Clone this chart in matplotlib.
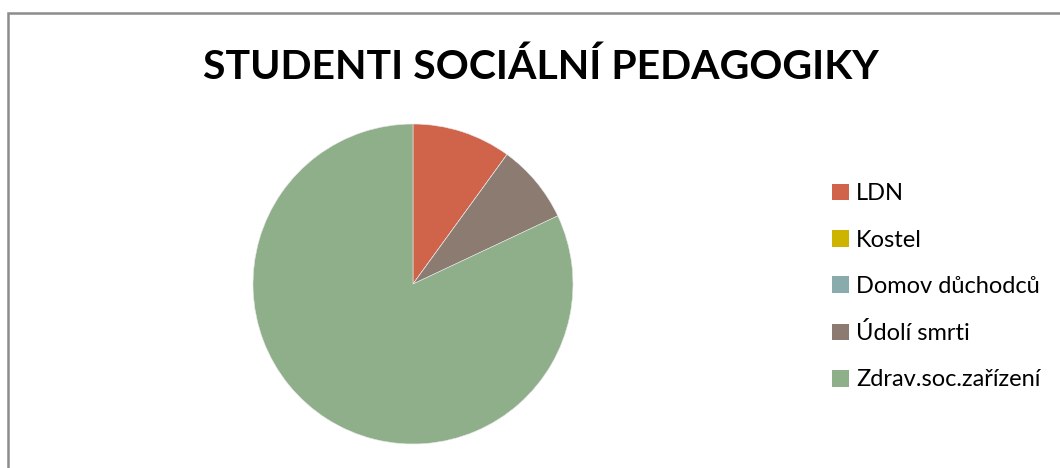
import matplotlib
matplotlib.use("Agg")
import matplotlib.pyplot as plt
from matplotlib.patches import Rectangle, Patch

categories = ["LDN", "Kostel", "Domov důchodců", "Údolí smrti", "Zdrav.soc.zařízení"]
values = [5, 0, 0, 4, 41]
colors = ["#D0644A", "#CCB400", "#8AABAB", "#8B7B70", "#8FAF8A"]
title = "STUDENTI SOCIÁLNÍ PEDAGOGIKY"

plt.rcParams["font.family"] = ["Lato", "DejaVu Sans"]

W, H = 1060, 468
fig = plt.figure(figsize=(W / 100, H / 100), dpi=100)
fig.patch.set_facecolor("white")

# chart frame (open at right and bottom)
fig.add_artist(Rectangle((7.5 / W, -0.1), 1.2, 1 - 12.5 / H + 0.1,
                         transform=fig.transFigure, fill=False,
                         edgecolor="#8C8C8C", linewidth=1.8))

# pie axes: centre (413, 284), radius 160 px
cx, cy, r = 413, 284, 160
ax = fig.add_axes([(cx - r) / W, 1 - (cy + r) / H, 2 * r / W, 2 * r / H])
ax.pie(values, colors=colors, startangle=90, counterclock=False,
       radius=1.0, wedgeprops=dict(linewidth=0.4, edgecolor="#E8E8E8"))
ax.set_xlim(-1, 1)
ax.set_ylim(-1, 1)
ax.set_aspect("auto")
ax.axis("off")

fig.text(541 / W, 1 - 79 / H, title, ha="center", va="baseline",
         fontsize=29.5, fontweight="bold", color="black")

handles = [Patch(facecolor=c, edgecolor="none") for c in colors]
fig.legend(handles, categories, loc="upper left",
           bbox_to_anchor=(823 / W, 1 - 174 / H), frameon=False,
           fontsize=17, handlelength=0.7, handleheight=0.7,
           handletextpad=0.3, labelspacing=1.07, borderaxespad=0)

fig.savefig("out.png", dpi=100, facecolor="white")
